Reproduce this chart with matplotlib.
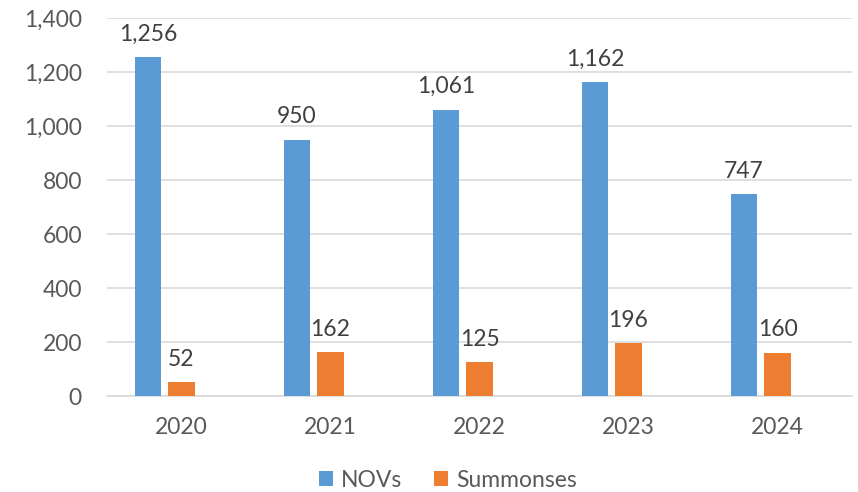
import matplotlib.pyplot as plt
import numpy as np

# Datos del gráfico
years = ["2020", "2021", "2022", "2023", "2024"]
novs = [1256, 950, 1061, 1162, 747]
summonses = [52, 162, 125, 196, 160]

plt.rcParams['font.family'] = ['Lato', 'DejaVu Sans']

fig = plt.figure(figsize=(8.58, 4.92), dpi=100)
ax = fig.add_axes([0.1247, 0.195, 0.8683, 0.7684])

x = np.arange(len(years))
ancho = 0.18
desp = 0.225

b1 = ax.bar(x - desp, novs, width=ancho, color='#5B9BD5', label='NOVs', zorder=3)
b2 = ax.bar(x, summonses, width=ancho, color='#ED7D31', label='Summonses', zorder=3)

# Etiquetas de datos
for barras in (b1, b2):
    for barra in barras:
        h = barra.get_height()
        ax.annotate(f'{h:,.0f}', (barra.get_x() + barra.get_width() / 2, h),
                    xytext=(0, 9), textcoords='offset points',
                    ha='center', va='bottom', fontsize=16.5, color='#404040')

ax.set_xlim(-0.5, len(years) - 0.5)
ax.set_ylim(0, 1400)
ax.set_yticks(range(0, 1401, 200))
ax.yaxis.set_major_formatter(plt.FuncFormatter(lambda v, p: f'{v:,.0f}'))
ax.set_xticks(x)
ax.set_xticklabels(years)

ax.grid(axis='y', color='#D9D9D9', linewidth=1.2, zorder=0)
for s in ('top', 'right', 'left'):
    ax.spines[s].set_visible(False)
ax.spines['bottom'].set_color('#D9D9D9')
ax.spines['bottom'].set_linewidth(1.2)
ax.tick_params(axis='both', length=0, labelsize=16.5, colors='#595959')
ax.tick_params(axis='y', pad=18)
ax.tick_params(axis='x', pad=15)

fig.legend(loc='center', bbox_to_anchor=(0.522, 0.024), ncol=2, frameon=False,
           fontsize=16.5, handlelength=0.6, handleheight=0.6,
           handletextpad=0.35, columnspacing=1.4, labelcolor='#595959')

fig.savefig('out.png', dpi=100)
